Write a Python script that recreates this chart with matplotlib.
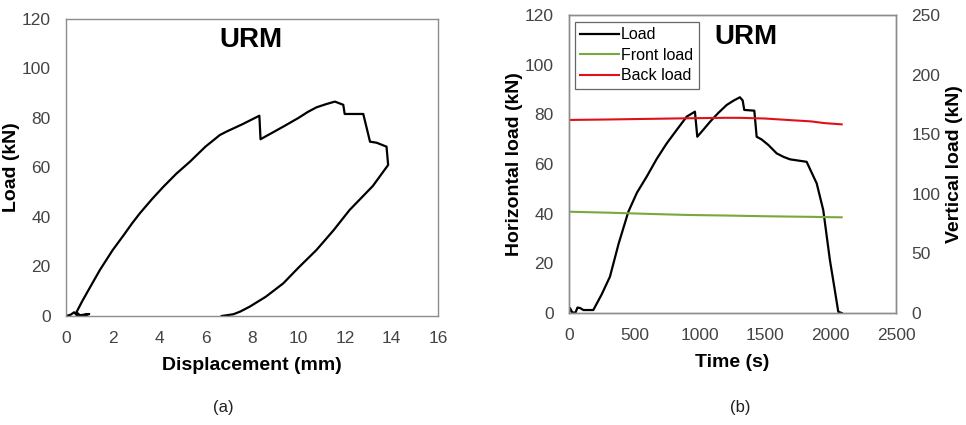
import numpy as np
import matplotlib.pyplot as plt

# (a) load vs displacement
disp = [0.0, 0.2, 0.35, 0.45, 0.5, 0.7, 1.0, 0.6, 0.45, 0.7, 1.0, 1.46, 2.0, 2.47,
        2.85, 3.18, 3.7, 4.19, 4.75, 5.33, 6.0, 6.62, 6.91, 7.6, 8.32, 8.37, 9.35,
        10.0, 10.4, 10.78, 11.2, 11.57, 11.93, 11.99, 12.79, 13.08, 13.36, 13.79,
        13.86, 13.2, 12.2, 11.5, 10.78, 10.0, 9.35, 8.6, 7.91, 7.5, 7.2, 6.7]
load_a = [0.0, 0.5, 1.5, 0.5, 0.0, 0.2, 0.8, 0.3, 1.5, 6.0, 11.0, 18.6, 26.5, 32.5,
          37.5, 41.5, 47.2, 52.2, 57.5, 62.3, 68.4, 73.1, 74.5, 77.5, 80.9, 71.4,
          76.5, 80.0, 82.4, 84.3, 85.6, 86.6, 85.3, 81.6, 81.6, 70.4, 70.0, 68.4,
          61.0, 52.5, 42.8, 34.5, 26.7, 19.5, 13.2, 7.8, 3.8, 1.8, 0.7, 0.0]

# (b) loads vs time
time_h = [0, 8, 25, 50, 65, 85, 110, 186, 250, 313, 380, 454, 520, 594, 670, 747,
          823, 900, 963, 981, 1030, 1078, 1140, 1206, 1260, 1307, 1328, 1340, 1417,
          1435, 1473, 1524, 1588, 1640, 1690, 1817, 1894, 1944, 1995, 2030, 2059, 2085]
load_h = [0.0, 2.0, 0.2, 0.2, 2.2, 2.0, 1.2, 1.2, 7.5, 14.6, 28.0, 40.8, 48.5, 54.9,
          62.0, 68.3, 73.7, 79.1, 81.1, 71.0, 74.0, 77.0, 80.5, 83.8, 85.6, 86.9,
          85.6, 81.8, 81.5, 71.0, 69.9, 67.7, 64.3, 62.9, 61.9, 60.9, 52.2, 41.5,
          21.3, 10.0, 0.5, 0.0]

time_v = [0, 300, 600, 900, 1200, 1300, 1500, 1700, 1850, 1950, 2085]
front_v = [85.0, 84.2, 83.2, 82.3, 81.8, 81.6, 81.2, 80.9, 80.7, 80.5, 80.3]
back_v = [162.0, 162.4, 162.9, 163.4, 163.8, 163.8, 163.2, 161.8, 160.8, 159.4, 158.3]

plt.rcParams['font.family'] = ['Liberation Sans', 'DejaVu Sans']
tick_col = '#444444'
spine_col = '#8c8c8c'

fig = plt.figure(figsize=(9.66, 4.25), dpi=100)
ax1 = fig.add_axes([0.0683, 0.2565, 0.385, 0.699])
ax2 = fig.add_axes([0.589, 0.2635, 0.3385, 0.701])
ax3 = ax2.twinx()

def style(ax):
    for s in ax.spines.values():
        s.set_color(spine_col)
        s.set_linewidth(1.0)
    ax.tick_params(length=0, labelsize=12.5, colors=tick_col, pad=11)

# panel (a)
ax1.plot(disp, load_a, color='black', lw=1.6)
ax1.set_xlim(0, 16)
ax1.set_ylim(0, 120)
ax1.set_xticks(np.arange(0, 17, 2))
ax1.set_yticks(np.arange(0, 121, 20))
style(ax1)
ax1.set_xlabel('Displacement (mm)', fontsize=14, fontweight='bold', labelpad=8)
ax1.set_ylabel('Load (kN)', fontsize=14, fontweight='bold', labelpad=1)
ax1.text(0.496, 0.929, 'URM', transform=ax1.transAxes, ha='center', va='center',
         fontsize=20, fontweight='bold')

# panel (b)
l1, = ax2.plot(time_h, load_h, color='black', lw=1.6, label='Load')
l2, = ax3.plot(time_v, front_v, color='#7aa83c', lw=1.5, label='Front load')
l3, = ax3.plot(time_v, back_v, color='#e0101a', lw=1.5, label='Back load')
ax2.set_xlim(0, 2500)
ax2.set_ylim(0, 120)
ax3.set_ylim(0, 250)
ax2.set_xticks(np.arange(0, 2501, 500))
ax2.set_yticks(np.arange(0, 121, 20))
ax3.set_yticks(np.arange(0, 251, 50))
style(ax2)
style(ax3)
ax2.set_xlabel('Time (s)', fontsize=14, fontweight='bold', labelpad=8)
ax2.set_ylabel('Horizontal load (kN)', fontsize=14, fontweight='bold', labelpad=1)
ax3.set_ylabel('Vertical load (kN)', fontsize=14, fontweight='bold', labelpad=4)
ax3.text(0.541, 0.925, 'URM', transform=ax3.transAxes, ha='center', va='center',
         fontsize=20, fontweight='bold')
leg = ax3.legend(handles=[l1, l2, l3], loc='upper left', bbox_to_anchor=(0.018, 0.978),
                 fontsize=11.5, frameon=True, fancybox=False, handlelength=2.4,
                 handletextpad=0.15, borderpad=0.35, labelspacing=0.35, borderaxespad=0)
leg.get_frame().set_edgecolor('#404040')
leg.get_frame().set_linewidth(0.9)

fig.text(0.231, 0.042, '(a)', ha='center', va='center', fontsize=12, color='#202020')
fig.text(0.766, 0.042, '(b)', ha='center', va='center', fontsize=12, color='#202020')

fig.savefig('out.png', dpi=100)
